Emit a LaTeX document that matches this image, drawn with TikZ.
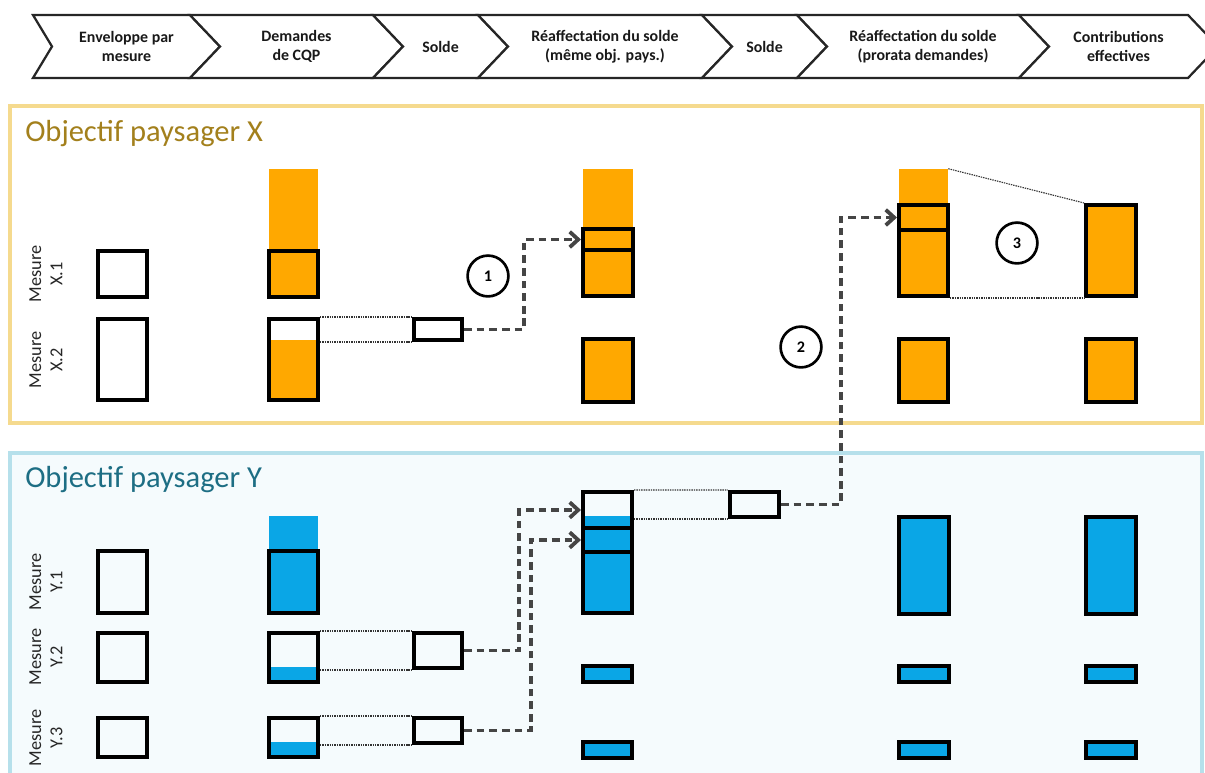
\documentclass[tikz,border=0pt]{standalone}
\usepackage{fontspec}
\setmainfont{Carlito}
\usetikzlibrary{fit,arrows.meta}
\definecolor{orangebar}{HTML}{FFA800}
\definecolor{bluebar}{HTML}{0AA6E6}
\definecolor{goldline}{HTML}{F5DA8E}
\definecolor{goldtext}{HTML}{A3801C}
\definecolor{tealline}{HTML}{B6E0EB}
\definecolor{tealfill}{HTML}{F5FBFD}
\definecolor{tealtext}{HTML}{1D6E84}
\definecolor{linkgray}{HTML}{454545}

\begin{document}
\begin{tikzpicture}[x=0.025cm,y=-0.025cm,
	chev/.style={draw=black!85,line width=1.6pt,fill=white,line join=miter},
	hdtext/.style={align=center,text=black!90,font=\fontsize{11.3}{13.5}\selectfont\bfseries},
	mbox/.style={draw=black,line width=2.9pt,inner sep=0pt},
	obar/.style={fill=orangebar,inner sep=0pt},
	bbar/.style={fill=bluebar,inner sep=0pt},
	thin link/.style={draw=black!80,line width=0.8pt,dash pattern=on 1pt off 0.7pt},
	link/.style={draw=linkgray,line width=2.7pt,dash pattern=on 5.5pt off 3.5pt,-{Straight Barb[length=6pt,width=11pt]}},
	stage/.style={draw,circle,line width=1.9pt,minimum size=1.02cm,inner sep=0pt,font=\fontsize{11.5}{13}\selectfont\bfseries},
	rowlabel/.style={rotate=90,align=center,text=black!85,font=\fontsize{13}{15}\selectfont},
]
	\useasboundingbox (0,0) rectangle (1205,773);

	% etapes
	\foreach \l/\r/\n/\t [count=\i] in {33/190/19/{Enveloppe par\\mesure},190/373/30/{Demandes\\de CQP},373/478/30/{Solde},478/702/30/{R\'eaffectation du solde\\(m\^eme obj. pays.)},702/797/30/{Solde},797/1019/30/{R\'eaffectation du solde\\(prorata demandes)},1019/1188/30/{Contributions\\effectives}}{
		\draw[chev] (\l,15) -- (\r,15) -- (\r+30,46.5) -- (\r,78) -- (\l,78) -- (\l+\n,46.5) -- cycle;
		\node[hdtext] (hd\i) at ({(\l+\r)/2+15},46.5) {\t};
	}

	% objectif paysager X
	\draw[draw=goldline,line width=2.2pt,fill=white] (10,106) rectangle (1202,423);
	\node[anchor=base west,text=goldtext,font=\fontsize{21.7}{24}\selectfont,inner sep=0pt] (titlex) at (25,142) {Objectif paysager X};
	\node[rowlabel] (lx1) at (46,274) {Mesure\\X.1};
	\node[rowlabel] (lx2) at (46,360) {Mesure\\X.2};

	\node[mbox,fit={(98,251) (147,297)}] (ex1) {};
	\node[mbox,fit={(98,319) (147,400)}] (ex2) {};

	\node[obar,fit={(269,169) (318,251)}] (dx1o) {};
	\node[mbox,fill=orangebar,fit={(269,251) (318,297)}] (dx1) {};
	\fill[orangebar] (269,340) rectangle (318,400);
	\node[mbox,fit={(269,319) (318,400)}] (dx2) {};
	\node[mbox,fit={(414,319) (462,340)}] (sx2) {};

	\node[obar,fit={(583,169) (633,229)}] (rx1o) {};
	\node[mbox,fill=orangebar,fit={(583,229) (633,250)}] (rx1s) {};
	\node[mbox,fill=orangebar,fit={(583,250) (633,296)}] (rx1) {};
	\node[mbox,fill=orangebar,fit={(583,339) (633,402)}] (rx2) {};

	\node[obar,fit={(899,169) (948,205)}] (px1o) {};
	\node[mbox,fill=orangebar,fit={(899,205) (948,230)}] (px1s) {};
	\node[mbox,fill=orangebar,fit={(899,230) (948,296)}] (px1) {};
	\node[mbox,fill=orangebar,fit={(899,339) (948,402)}] (px2) {};

	\node[mbox,fill=orangebar,fit={(1086,205) (1136,296)}] (cx1) {};
	\node[mbox,fill=orangebar,fit={(1086,339) (1136,402)}] (cx2) {};

	\draw[thin link] (dx2.north east) -- (sx2.north west);
	\draw[thin link] (dx2.east |- sx2.south west) -- (sx2.south west);
	\draw[thin link] (px1o.north east) -- (cx1.north west);
	\draw[thin link] (px1.south east) -- (cx1.south west);

	\node[stage] (st1) at (488,276) {1};
	\node[stage] (st2) at (801,347) {2};
	\node[stage] (st3) at (1017,243) {3};

	% objectif paysager Y
	\draw[draw=tealline,line width=2.2pt,fill=tealfill] (10,453) rectangle (1202,790);
	\node[anchor=base west,text=tealtext,font=\fontsize{21.7}{24}\selectfont,inner sep=0pt] (titley) at (25,488) {Objectif paysager Y};
	\node[rowlabel] (ly1) at (46,582) {Mesure\\Y.1};
	\node[rowlabel] (ly2) at (46,657) {Mesure\\Y.2};
	\node[rowlabel] (ly3) at (46,738) {Mesure\\Y.3};

	\node[mbox,fit={(98,551) (147,613)}] (ey1) {};
	\node[mbox,fit={(98,633) (147,682)}] (ey2) {};
	\node[mbox,fit={(98,718) (147,757)}] (ey3) {};

	\node[bbar,fit={(269,516) (318,551)}] (dy1o) {};
	\node[mbox,fill=bluebar,fit={(269,551) (318,613)}] (dy1) {};
	\fill[bluebar] (269,667) rectangle (318,682);
	\node[mbox,fit={(269,633) (318,682)}] (dy2) {};
	\fill[bluebar] (269,742) rectangle (318,757);
	\node[mbox,fit={(269,718) (318,757)}] (dy3) {};
	\node[mbox,fit={(414,633) (462,668)}] (sy2) {};
	\node[mbox,fit={(414,718) (462,743)}] (sy3) {};

	\fill[bluebar] (583,516) rectangle (632,528);
	\node[mbox,fit={(583,492) (632,528)}] (ry1a) {};
	\node[mbox,fill=bluebar,fit={(583,528) (632,552)}] (ry1b) {};
	\node[mbox,fill=bluebar,fit={(583,552) (632,613)}] (ry1) {};
	\node[mbox,fill=bluebar,fit={(583,666) (632,682)}] (ry2) {};
	\node[mbox,fill=bluebar,fit={(583,742) (632,758)}] (ry3) {};
	\node[mbox,fit={(730,492) (779,517)}] (sy4) {};

	\foreach \x/\c in {899/py,1086/cy}{
		\node[mbox,fill=bluebar,fit={(\x,517) (\x+50,614)}] (\c1) {};
		\node[mbox,fill=bluebar,fit={(\x,666) (\x+50,682)}] (\c2) {};
		\node[mbox,fill=bluebar,fit={(\x,742) (\x+50,758)}] (\c3) {};
	}

	\draw[thin link] (dy2.north east) -- (sy2.north west);
	\draw[thin link] (dy2.east |- sy2.south west) -- (sy2.south west);
	\draw[thin link] (dy3.north east) -- (sy3.north west);
	\draw[thin link] (dy3.east |- sy3.south west) -- (sy3.south west);
	\draw[thin link] (ry1a.north east) -- (sy4.north west);
	\draw[thin link] (ry1a.east |- sy4.south west) -- (sy4.south west);

	% transferts du solde
	\draw[link] (sx2.east) -- ++(60,0) |- (rx1s.west);
	\draw[link] (sy2.east) -- ++(55,0) |- (ry1a.west);
	\draw[link] (sy3.east) -- ++(67,0) |- (ry1b.west);
	\draw[link] (sy4.east) -- ++(60,0) |- (px1s.west);
\end{tikzpicture}
\end{document}
